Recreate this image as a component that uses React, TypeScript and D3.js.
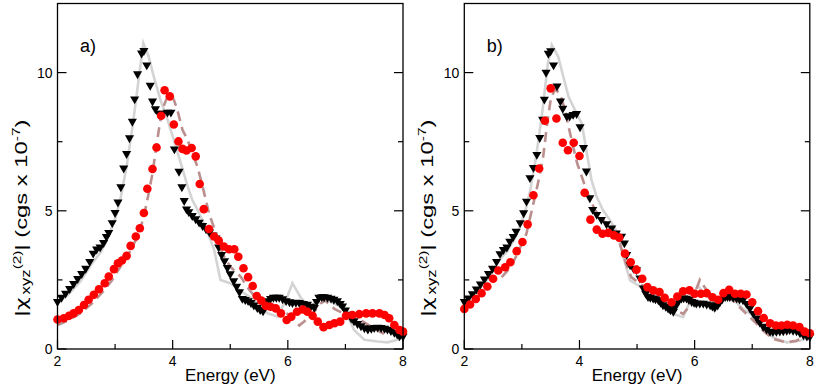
import React from "react";
import * as d3 from "d3";

// ---------- data ----------
const xTicksMajor = [2, 4, 6, 8];
const xTicksMinor = [3, 5, 7];
const yTicksMajor = [0, 5, 10];
const yTicksMinor = [2.5, 7.5];
const panelLabels = ["a)", "b)"];

// panel a
const aBlack: [number, number][] = [
  [2.0,1.75],[2.07,1.9],[2.14,2.05],[2.21,2.22],[2.28,2.4],[2.35,2.58],[2.42,2.76],[2.49,2.95],[2.56,3.2],[2.62,3.5],
  [2.68,3.65],[2.74,3.72],[2.8,3.88],[2.85,4.1],[2.89,4.25],[2.95,4.6],[3.0,4.97],[3.05,5.35],[3.1,5.9],[3.15,6.58],
  [3.2,7.1],[3.25,7.67],[3.3,8.27],[3.34,9.08],[3.39,9.99],[3.46,10.74],[3.5,10.83],[3.55,10.31],[3.61,9.57],[3.65,9.0],
  [3.7,8.72],[3.76,8.56],[3.83,8.56],[3.91,8.6],[3.97,8.6],[4.03,7.27],[4.11,6.46],[4.16,5.9],[4.2,5.4],[4.24,5.1],
  [4.28,5.0],[4.34,4.86],[4.4,4.74],[4.46,4.62],[4.52,4.5],[4.58,4.38],[4.64,4.26],[4.7,4.16],[4.75,4.05],[4.8,3.72],
  [4.85,3.45],[4.9,3.22],[4.95,2.98],[5.0,2.75],[5.06,2.5],[5.11,2.3],[5.16,2.1],[5.21,1.86],[5.26,1.82],[5.31,1.78],
  [5.36,1.71],[5.41,1.62],[5.47,1.53],[5.52,1.46],[5.57,1.41],[5.61,1.6],[5.65,1.78],[5.7,1.86],[5.75,1.9],[5.8,1.9],
  [5.85,1.9],[5.91,1.85],[5.97,1.78],[6.03,1.74],[6.08,1.71],[6.14,1.72],[6.2,1.71],[6.27,1.68],[6.34,1.65],[6.4,1.58],
  [6.46,1.53],[6.5,1.75],[6.54,1.9],[6.59,1.92],[6.63,1.92],[6.69,1.9],[6.75,1.87],[6.8,1.83],[6.86,1.78],[6.91,1.68],
  [6.95,1.59],[7.0,1.44],[7.04,1.29],[7.1,1.15],[7.15,1.05],[7.21,0.95],[7.27,0.87],[7.33,0.8],[7.39,0.75],[7.45,0.78],
  [7.5,0.81],[7.56,0.82],[7.62,0.81],[7.68,0.78],[7.73,0.75],[7.79,0.7],[7.85,0.63],[7.9,0.57],[7.94,0.51],[8.0,0.5],
];
const aRed: [number, number][] = [
  [2.0,1.07],[2.11,1.11],[2.2,1.2],[2.28,1.29],[2.37,1.41],[2.46,1.59],[2.54,1.78],[2.63,1.96],[2.72,2.16],[2.82,2.38],
  [2.89,2.62],[2.98,2.89],[3.05,3.1],[3.12,3.2],[3.2,3.37],[3.27,3.73],[3.36,4.07],[3.43,4.37],[3.5,4.92],[3.56,5.8],
  [3.65,6.51],[3.72,7.29],[3.8,8.44],[3.86,9.36],[3.95,9.14],[4.02,8.12],[4.1,7.51],[4.17,7.24],[4.24,7.18],[4.33,7.27],
  [4.4,6.97],[4.47,5.97],[4.54,5.06],[4.63,4.34],[4.72,4.07],[4.8,3.92],[4.89,3.71],[4.98,3.61],[5.07,3.61],[5.14,3.34],
  [5.23,2.92],[5.31,2.6],[5.39,2.28],[5.46,1.92],[5.54,1.75],[5.62,1.56],[5.7,1.53],[5.79,1.47],[5.88,1.29],[5.98,1.05],
  [6.06,1.17],[6.16,1.35],[6.26,1.43],[6.34,1.35],[6.43,1.2],[6.52,0.99],[6.62,0.79],[6.72,0.87],[6.81,0.93],[6.91,0.99],
  [7.01,1.2],[7.12,1.23],[7.24,1.26],[7.36,1.29],[7.47,1.29],[7.59,1.29],[7.68,1.23],[7.76,1.11],[7.85,0.87],[7.94,0.69],
  [8.0,0.63],
];
const aGray: [number, number][] = [
  [2.0,1.65],[2.2,2.0],[2.4,2.45],[2.6,3.1],[2.75,3.5],[2.85,3.9],[3.0,4.7],[3.1,5.5],[3.2,6.6],[3.3,8.0],
  [3.4,9.6],[3.49,11.07],[3.58,10.6],[3.67,9.87],[3.79,9.0],[3.91,8.3],[4.02,7.57],[4.14,6.73],[4.26,5.88],[4.34,5.4],
  [4.43,5.04],[4.54,4.55],[4.63,4.1],[4.72,3.59],[4.83,2.5],[5.0,2.38],[5.18,2.1],[5.36,1.85],[5.53,1.5],[5.65,1.29],
  [5.82,1.17],[5.97,1.78],[6.08,2.38],[6.23,1.84],[6.4,1.53],[6.52,1.78],[6.66,1.9],[6.75,1.7],[6.92,1.53],[7.01,1.35],
  [7.15,0.69],[7.33,0.33],[7.56,0.27],[7.73,0.24],[7.91,0.33],[8.0,0.42],
];
const aDashed: [number, number][] = [
  [2.0,0.87],[2.2,1.05],[2.4,1.3],[2.6,1.65],[2.8,2.1],[2.95,2.5],[3.1,3.0],[3.25,3.5],[3.4,4.1],[3.5,4.8],
  [3.58,5.6],[3.65,6.36],[3.7,7.09],[3.76,7.93],[3.82,8.66],[3.91,9.14],[3.97,9.2],[4.02,9.02],[4.08,8.66],[4.17,7.93],
  [4.26,7.57],[4.34,7.09],[4.43,6.6],[4.52,5.88],[4.63,4.92],[4.75,4.19],[4.86,3.47],[5.0,2.98],[5.18,2.62],[5.33,2.14],
  [5.5,1.71],[5.65,1.53],[5.82,1.41],[5.98,1.29],[6.08,1.1],[6.2,0.85],[6.4,1.2],[6.57,1.65],[6.65,1.75],[6.81,1.45],
  [7.09,1.15],[7.3,1.0],[7.53,0.7],[7.72,0.5],
];

// panel b
const bBlack: [number, number][] = [
  [2.0,1.75],[2.07,1.88],[2.14,2.03],[2.21,2.2],[2.28,2.38],[2.35,2.56],[2.42,2.76],[2.49,2.95],[2.56,3.2],[2.62,3.48],
  [2.68,3.63],[2.74,3.72],[2.79,3.93],[2.85,4.1],[2.9,4.29],[2.97,4.6],[3.03,4.96],[3.08,5.38],[3.14,6.23],[3.2,6.6],
  [3.26,7.07],[3.31,7.68],[3.36,8.34],[3.39,9.07],[3.42,10.04],[3.46,10.73],[3.5,10.82],[3.55,10.31],[3.61,9.55],[3.67,9.0],
  [3.71,8.74],[3.78,8.46],[3.83,8.46],[3.89,8.52],[3.95,8.55],[4.01,8.07],[4.07,7.32],[4.12,6.47],[4.18,5.5],[4.23,5.08],
  [4.3,4.9],[4.38,4.72],[4.47,4.56],[4.56,4.41],[4.64,4.23],[4.73,4.11],[4.78,3.87],[4.82,3.45],[4.88,3.08],[4.94,2.95],
  [4.99,2.9],[5.05,2.6],[5.11,2.24],[5.15,2.05],[5.19,1.93],[5.23,1.9],[5.28,1.87],[5.32,1.85],[5.37,1.81],[5.41,1.72],
  [5.45,1.63],[5.5,1.57],[5.54,1.51],[5.58,1.45],[5.63,1.39],[5.66,1.55],[5.69,1.69],[5.73,1.8],[5.77,1.87],[5.81,1.88],
  [5.86,1.87],[5.9,1.82],[5.95,1.75],[5.99,1.72],[6.03,1.69],[6.09,1.69],[6.15,1.69],[6.21,1.66],[6.27,1.63],[6.31,1.58],
  [6.35,1.54],[6.4,1.62],[6.44,1.75],[6.48,1.85],[6.53,1.93],[6.57,1.93],[6.61,1.93],[6.67,1.9],[6.73,1.87],[6.78,1.84],
  [6.84,1.81],[6.9,1.68],[6.96,1.51],[7.02,1.32],[7.08,1.15],[7.13,1.0],[7.19,0.85],[7.25,0.75],[7.31,0.67],[7.36,0.66],
  [7.42,0.67],[7.48,0.68],[7.54,0.69],[7.6,0.71],[7.65,0.73],[7.71,0.71],[7.77,0.69],[7.83,0.62],[7.89,0.54],[7.95,0.5],
  [8.0,0.48],
];
const bRed: [number, number][] = [
  [2.0,1.45],[2.1,1.61],[2.2,1.81],[2.3,2.02],[2.4,2.26],[2.5,2.54],[2.59,2.84],[2.71,2.96],[2.8,3.14],[2.91,3.54],
  [3.01,3.87],[3.1,4.51],[3.2,5.56],[3.3,6.53],[3.4,8.26],[3.5,9.43],[3.6,8.34],[3.71,7.46],[3.8,7.19],[3.9,7.46],
  [4.0,6.98],[4.09,5.65],[4.19,4.68],[4.3,4.32],[4.4,4.17],[4.5,4.2],[4.6,4.11],[4.69,4.03],[4.79,3.45],[4.89,3.14],
  [4.99,2.87],[5.09,2.54],[5.18,2.24],[5.28,2.12],[5.39,2.06],[5.48,1.85],[5.6,1.69],[5.7,1.9],[5.8,2.09],[5.91,2.12],
  [6.0,2.0],[6.11,2.0],[6.21,2.02],[6.31,1.87],[6.41,1.78],[6.5,2.02],[6.6,2.14],[6.7,2.0],[6.8,2.0],[6.9,1.97],
  [7.0,1.69],[7.1,1.37],[7.2,1.12],[7.31,0.93],[7.41,0.85],[7.51,0.85],[7.61,0.88],[7.71,0.85],[7.82,0.79],[7.91,0.63],
  [8.0,0.57],
];
const bGray: [number, number][] = [
  [2.0,1.69],[2.2,2.05],[2.4,2.5],[2.6,3.2],[2.75,3.55],[2.9,4.1],[3.05,4.9],[3.15,5.8],[3.25,7.0],[3.35,8.5],
  [3.45,10.3],[3.52,11.0],[3.63,10.58],[3.72,9.85],[3.81,9.13],[3.92,8.65],[4.04,8.16],[4.12,7.19],[4.21,6.1],[4.3,5.5],
  [4.41,5.02],[4.53,4.66],[4.67,4.17],[4.76,3.33],[4.88,2.48],[5.02,2.3],[5.17,2.06],[5.34,1.75],[5.51,1.51],[5.63,1.27],
  [5.8,1.15],[5.98,2.0],[6.06,2.3],[6.15,2.0],[6.27,1.81],[6.38,1.63],[6.53,1.87],[6.67,1.81],[6.84,1.45],[7.02,1.21],
  [7.19,0.73],[7.36,0.42],[7.6,0.24],[7.83,0.3],[8.0,0.42],
];
const bDashed: [number, number][] = [
  [2.65,2.6],[2.8,2.95],[2.91,3.39],[3.08,4.18],[3.2,5.27],[3.28,6.0],[3.37,6.96],[3.44,8.17],[3.5,9.02],[3.57,9.38],
  [3.66,9.26],[3.75,8.65],[3.81,8.05],[3.89,7.32],[3.96,6.72],[4.04,6.24],[4.12,5.74],[4.27,5.02],[4.41,4.66],[4.59,4.29],
  [4.7,3.81],[4.81,3.08],[4.9,2.6],[5.05,2.36],[5.22,2.12],[5.4,1.81],[5.57,1.57],[5.69,1.39],[5.8,1.27],[5.92,1.57],
  [6.09,2.5],[6.21,2.12],[6.32,1.75],[6.5,1.87],[6.67,1.75],[6.84,1.39],[7.02,1.03],[7.19,0.67],[7.36,0.36],[7.6,0.24],
  [7.77,0.3],[7.89,0.45],[8.0,0.55],
];

const panels = [
  { label: panelLabels[0], left: 57.5, black: aBlack, red: aRed, gray: aGray, dashed: aDashed },
  { label: panelLabels[1], left: 464.3, black: bBlack, red: bRed, gray: bGray, dashed: bDashed },
];

const FONT = "'Liberation Sans', Arial, Helvetica, sans-serif";
const W = 345.5;
const TOP = 3.5;
const BOTTOM = 349;

function Panel({ p }: { p: typeof panels[number] }) {
  const x = d3.scaleLinear().domain([2, 8]).range([p.left, p.left + W]);
  const y = d3.scaleLinear().domain([0, 12.5]).range([BOTTOM, TOP]);
  const line = d3.line<[number, number]>().x((d) => x(d[0])).y((d) => y(d[1]));
  const tri = d3.symbol().type(d3.symbolTriangle).size(36)();
  const cx = p.left + W / 2;
  const labX = p.left - 31;
  const labY = 218;
  return (
    <g>
      <path d={line(p.gray) || ""} fill="none" stroke="#d4d4d4" strokeWidth={2.6} />
      <path d={line(p.dashed) || ""} fill="none" stroke="#bc8f8f" strokeWidth={2.6} strokeDasharray="10,6" />
      {p.black.map((d, i) => (
        <path key={"b" + i} d={tri || ""} transform={`translate(${x(d[0])},${y(d[1]) + 1}) rotate(180)`} fill="#000" />
      ))}
      {p.red.map((d, i) => (
        <circle key={"r" + i} cx={x(d[0])} cy={y(d[1])} r={4.3} fill="#ff0000" />
      ))}
      <rect x={p.left} y={TOP} width={W} height={BOTTOM - TOP} fill="none" stroke="#000" strokeWidth={1.3} />
      {xTicksMajor.map((t) => (
        <g key={"xm" + t}>
          <line x1={x(t)} x2={x(t)} y1={BOTTOM} y2={BOTTOM - 9} stroke="#000" strokeWidth={1.2} />
          <text x={x(t)} y={366} fontSize={14} textAnchor="middle" fontFamily={FONT}>{t}</text>
        </g>
      ))}
      {xTicksMinor.map((t) => (
        <line key={"xn" + t} x1={x(t)} x2={x(t)} y1={BOTTOM} y2={BOTTOM - 5} stroke="#000" strokeWidth={1.2} />
      ))}
      {yTicksMajor.map((t) => (
        <g key={"ym" + t}>
          <line x1={p.left} x2={p.left + 9} y1={y(t)} y2={y(t)} stroke="#000" strokeWidth={1.2} />
          <line x1={p.left + W} x2={p.left + W - 9} y1={y(t)} y2={y(t)} stroke="#000" strokeWidth={1.2} />
          <text x={p.left - 5} y={y(t) + 5} fontSize={14} textAnchor="end" fontFamily={FONT}>{t}</text>
        </g>
      ))}
      {yTicksMinor.map((t) => (
        <g key={"yn" + t}>
          <line x1={p.left} x2={p.left + 5} y1={y(t)} y2={y(t)} stroke="#000" strokeWidth={1.2} />
          <line x1={p.left + W} x2={p.left + W - 5} y1={y(t)} y2={y(t)} stroke="#000" strokeWidth={1.2} />
        </g>
      ))}
      <text x={cx} y={381} fontSize={17} textAnchor="middle" fontFamily={FONT}>Energy (eV)</text>
      <text x={p.left + 22.5} y={52} fontSize={18} fontFamily={FONT}>{p.label}</text>
      <g transform={`translate(${labX},${labY}) rotate(-90) scale(1.4,1)`}>
        <text x={0} y={0} fontSize={17} textAnchor="middle" fontFamily={FONT}>
          |<tspan fontFamily="'DejaVu Sans', sans-serif" fontSize={16}>χ</tspan>
          <tspan fontSize={12} dy={3} dx={2}>xyz</tspan>
          <tspan fontSize={11} dy={-9}>(2)</tspan>
          <tspan fontSize={17} dy={6}>| (cgs x 10</tspan>
          <tspan fontSize={11} dy={-7}>-7</tspan>
          <tspan fontSize={17} dy={7}>)</tspan>
        </text>
      </g>
    </g>
  );
}

export default function App() {
  return (
    <svg width={817} height={389} style={{ position: "fixed", left: 0, top: 0, background: "#fff" }}>
      <rect width={817} height={389} fill="#fff" />
      {panels.map((p, i) => (
        <Panel key={i} p={p} />
      ))}
    </svg>
  );
}
